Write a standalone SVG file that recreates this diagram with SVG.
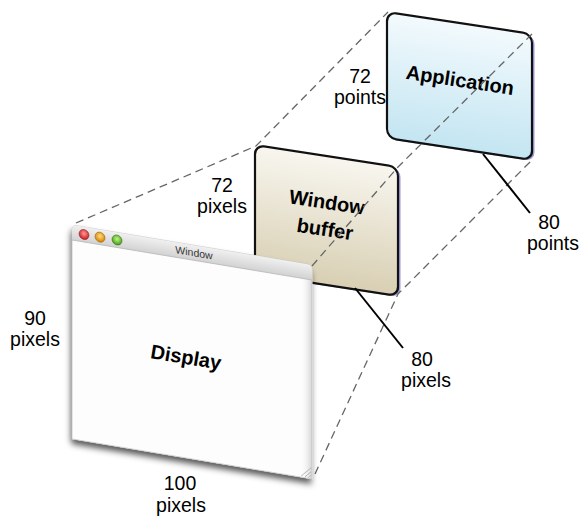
<svg xmlns="http://www.w3.org/2000/svg" width="583" height="517" viewBox="0 0 583 517">
<defs>
<linearGradient id="gApp" x1="0" y1="0" x2="0" y2="1">
<stop offset="0" stop-color="#f3fafd"/><stop offset="1" stop-color="#c3e5f2"/>
</linearGradient>
<linearGradient id="gBuf" x1="0" y1="0" x2="0" y2="1">
<stop offset="0" stop-color="#f8f6ef"/><stop offset="1" stop-color="#d8cfb3"/>
</linearGradient>
<linearGradient id="gTitle" x1="0" y1="0" x2="0" y2="1">
<stop offset="0" stop-color="#f0f0f0"/><stop offset="1" stop-color="#d2d2d2"/>
</linearGradient>
<linearGradient id="gRight" x1="0" y1="0" x2="1" y2="0">
<stop offset="0" stop-color="#ffffff" stop-opacity="0"/><stop offset="1" stop-color="#b8b8b8"/>
</linearGradient>
<radialGradient id="gRed" cx="0.5" cy="0.4" r="0.6"><stop offset="0" stop-color="#ff9a9a"/><stop offset="1" stop-color="#c8171b"/></radialGradient>
<radialGradient id="gOrg" cx="0.5" cy="0.4" r="0.6"><stop offset="0" stop-color="#ffe07a"/><stop offset="1" stop-color="#d67a00"/></radialGradient>
<radialGradient id="gGrn" cx="0.5" cy="0.4" r="0.6"><stop offset="0" stop-color="#c6f58a"/><stop offset="1" stop-color="#3c9a12"/></radialGradient>
<filter id="shadow" x="-10%" y="-10%" width="125%" height="130%">
<feDropShadow dx="-1" dy="5" stdDeviation="3" flood-color="#000" flood-opacity="0.65"/>
</filter>
</defs>
<style>
.panel{stroke:#111;stroke-width:2.2}
.edge{fill:#9d9ad6}
.dash{fill:none;stroke:#666;stroke-width:1.3;stroke-dasharray:8 5}
.lead{fill:none;stroke:#000;stroke-width:2}
.lbl{font-family:"Liberation Sans",Arial,sans-serif;font-size:19.5px;fill:#000;text-anchor:middle}
.bold{font-family:"Liberation Sans",Arial,sans-serif;font-size:20px;font-weight:bold;fill:#000;text-anchor:middle}
.title{font-family:"Liberation Sans",Arial,sans-serif;font-size:10.5px;fill:#333;text-anchor:middle}
</style>

<g id="application">
<g transform="matrix(1,0.1517,0,1,387,12)">
<rect class="edge" x="2.5" y="1" width="145" height="126" rx="9"/>
<rect class="panel" x="0" y="0" width="145" height="126" rx="9" fill="url(#gApp)"/>
</g>
<text class="bold" transform="translate(460,80) rotate(8.6)" x="0" y="7">Application</text>
</g>

<g id="window-buffer">
<g transform="matrix(1,0.1538,0,1,255,145)">
<rect class="edge" x="2.5" y="1" width="143" height="129" rx="9"/>
<rect class="panel" x="0" y="0" width="143" height="129" rx="9" fill="url(#gBuf)"/>
</g>
<text class="bold" transform="translate(327,202) rotate(8.7)" x="0" y="7">Window</text>
<text class="bold" transform="translate(325,229) rotate(8.7)" x="0" y="7">buffer</text>
</g>

<g id="connectors">
<path class="dash" d="M76,223 L256,146 L388,12"/>
<path class="dash" d="M312,266 L398,167 L532,34"/>
<path class="dash" d="M315,474 L398,294 L532,160"/>
<path class="lead" d="M355,288 L403,348"/>
<path class="lead" d="M483,154 L530,213"/>
</g>

<g id="display">
<g transform="matrix(1,0.1667,0,1,72,225)">
<path d="M0,5 Q0,0 5,0 H235 Q240,0 240,5 V214 H0 Z" fill="#fdfdfd" filter="url(#shadow)"/>
<path d="M0,5 Q0,0 5,0 H235 Q240,0 240,5 V214 H0 Z" fill="#fdfdfd" stroke="#c4c4c4" stroke-width="0.8"/>
<rect x="228" y="15" width="12" height="199" fill="url(#gRight)" opacity="0.6"/>
<path d="M0,5 Q0,0 5,0 H235 Q240,0 240,5 V15 H0 Z" fill="url(#gTitle)"/>
<line x1="0" y1="15" x2="240" y2="15" stroke="#b0b0b0" stroke-width="0.7"/>
<circle cx="12" cy="7.5" r="5" fill="url(#gRed)" stroke="#8a1a1a" stroke-width="0.5"/>
<circle cx="28" cy="7.5" r="5" fill="url(#gOrg)" stroke="#8a5a00" stroke-width="0.5"/>
<circle cx="45" cy="7.5" r="5" fill="url(#gGrn)" stroke="#2a6a10" stroke-width="0.5"/>
<text class="title" x="122" y="11">Window</text>
<path d="M229,213 L239,203 M233,213 L239,207 M236.5,213 L239,210.5" stroke="#aaa" stroke-width="0.8"/>
</g>
<text class="bold" transform="translate(186,357) rotate(9.5)" x="0" y="7">Display</text>
</g>

<g id="labels">
<text class="lbl" x="360" y="83">72</text>
<text class="lbl" x="360" y="104">points</text>
<text class="lbl" x="222" y="192">72</text>
<text class="lbl" x="222" y="213">pixels</text>
<text class="lbl" x="35" y="325">90</text>
<text class="lbl" x="35" y="346">pixels</text>
<text class="lbl" x="180" y="490">100</text>
<text class="lbl" x="181" y="512">pixels</text>
<text class="lbl" x="422" y="366">80</text>
<text class="lbl" x="426" y="387">pixels</text>
<text class="lbl" x="549" y="229">80</text>
<text class="lbl" x="553" y="250">points</text>
</g>
</svg>
